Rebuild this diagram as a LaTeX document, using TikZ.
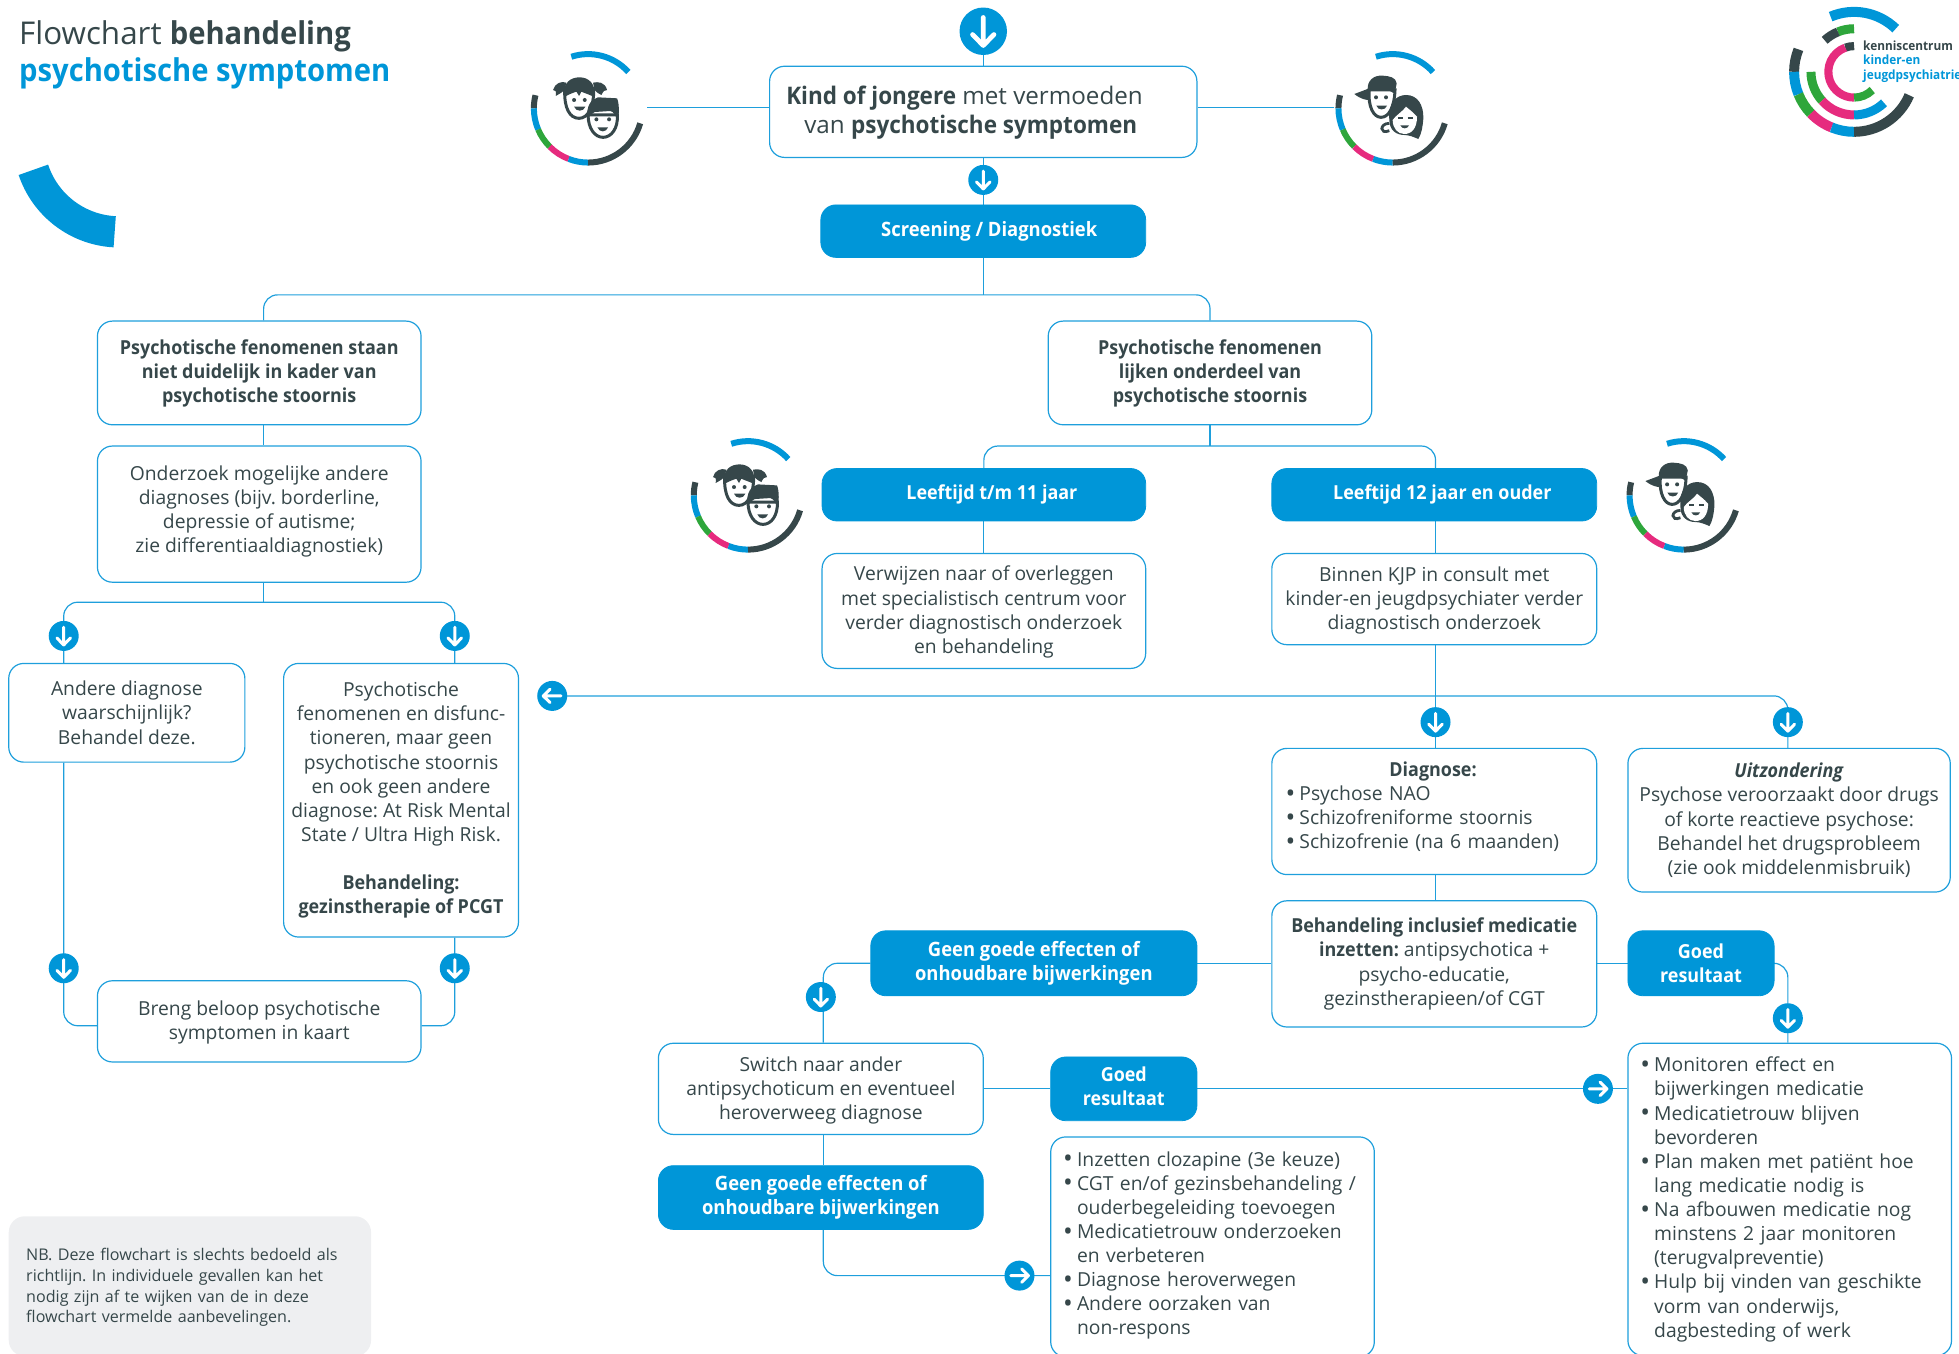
\documentclass[tikz,border=0pt]{standalone}
\usepackage{fontspec}
\setmainfont{Open Sans}[BoldFeatures={FakeStretch=0.93},BoldItalicFeatures={FakeStretch=0.93}]
\frenchspacing
\usetikzlibrary{calc,backgrounds}
\definecolor{bl}{HTML}{0096D8}
\definecolor{ln}{HTML}{1E9FDC}
\definecolor{gr}{HTML}{36474A}
\definecolor{gn}{HTML}{2EA63B}
\definecolor{pk}{HTML}{E62B7E}
\definecolor{nb}{HTML}{EEEFF1}
\def\uu{0.6247pt}
\newcommand\dn[1]{\rule{0pt}{\dimexpr 7.3pt+2\dimexpr #1pt\relax\relax}}
\newcommand\up[1]{\rule[-\dimexpr 2.4pt+2\dimexpr #1pt\relax\relax]{0pt}{0pt}}
\newcommand\bu{\makebox[6.9pt][l]{\fontsize{13}{0}\selectfont\raisebox{-0.9pt}{\textbullet}}}
\newcommand\ind{\hspace*{6.9pt}}
\tikzset{
  x=\uu,y=-\uu,
  bodyfont/.style={font=\fontsize{9.65}{12.06}\selectfont,text=gr},
  wbox/.style={draw=ln,line width=0.6pt,fill=white,rounded corners=7.5pt,inner sep=0pt,align=center,bodyfont},
  lbox/.style={wbox,align=left},
  bbox/.style={draw=bl,fill=bl,rounded corners=7.5pt,inner sep=0pt,align=center,font=\fontsize{9.65}{12.06}\selectfont\bfseries,text=white},
  bboxw/.style={bbox,font=\fontsize{9.9}{12.06}\selectfont\bfseries},
  conn/.style={draw=ln,line width=0.6pt,rounded corners=7pt},
  seg/.style={line width=#1*\uu,line cap=butt},
  dot/.style={circle,fill=bl,inner sep=0pt,draw=none},
  arr/.style={draw=white,line width=#1,line cap=round,line join=round},
  facel/.style={draw=gr,fill=white,line width=1.5pt},
}
\newcommand\bx[7]{\node[#1,minimum width={(#5-#3)*\uu},minimum height={(#6-#4)*\uu}] (#2) at ({(#3+#5)/2},{(#4+#6)/2}) {#7};}
\newcommand\lx[7]{\node[lbox,inner xsep={#6*\uu},text width={(#4-#2-2*#6)*\uu},minimum width={(#4-#2)*\uu},minimum height={(#5-#3)*\uu}] (#1) at ({(#2+#4)/2},{(#3+#5)/2}) {#7};}
\newcommand\ad[5]{\node[dot,minimum size={2*#4*\uu}] (#1) at (#2,#3) {};
  \begin{scope}[shift={(#1.center)},rotate=#5,x={#4*\uu},y={-#4*\uu}]
    \draw[arr={#4*0.125pt}] (0,-.58) -- (0,.58) (-.45,.14) -- (0,.6) -- (.45,.14);
  \end{scope}}
\newcommand\sg[5]{\draw[seg=#5,#4] (#1:#3) arc[start angle=#1,end angle=#2,radius=#3];}
\newcommand\ring[2]{\begin{scope}[shift={(#1,#2)},x=\uu,y=\uu]
  \sg{108}{42}{43.4}{bl}{4.8}
  \sg{166}{180}{43.4}{gr}{4.8}
  \sg{180}{203}{43.4}{bl}{4.8}
  \sg{203}{225}{43.4}{gn}{4.8}
  \sg{225}{249}{43.4}{pk}{4.8}
  \sg{249}{270}{43.4}{bl}{4.8}
  \sg{270}{344}{43.4}{gr}{4.8}
\end{scope}}
\newcommand\kids[2]{\ring{#1}{#2}
\begin{scope}[shift={(#1,#2)},x=.1667pt,y=-.1667pt,shift={(-205,-205)}]
  \fill[gr] (140,128) .. controls (125,122) and (105,130) .. (100,150) .. controls (108,148) and (110,155) .. (108,168) .. controls (122,160) and (130,155) .. (135,150) -- cycle;
  \fill[gr] (220,128) .. controls (235,125) and (255,125) .. (262,150) .. controls (255,148) and (250,155) .. (245,165) .. controls (235,160) and (228,155) .. (224,150) -- cycle;
  \draw[facel] (135,150) .. controls (133,205) and (150,235) .. (178,235) .. controls (205,235) and (222,200) .. (222,150) -- cycle;
  \fill[gr] (133,172) .. controls (128,125) and (155,112) .. (180,112) .. controls (205,112) and (230,130) .. (224,172) .. controls (214,165) and (195,160) .. (185,155) -- (178,168) -- (170,155) .. controls (155,160) and (143,165) .. (133,172) -- cycle;
  \fill[gr] (163,180) circle (6) (195,180) circle (6);
  \fill[gr] (163,200) -- (197,200) .. controls (192,216) and (168,216) .. (163,200) -- cycle;
  \draw[facel] (205,225) .. controls (205,265) and (225,292) .. (250,292) .. controls (275,292) and (295,265) .. (293,225) -- cycle;
  \fill[gr] (203,240) .. controls (198,195) and (215,178) .. (235,172) -- (292,175) .. controls (300,195) and (297,225) .. (295,242) .. controls (288,228) and (282,215) .. (272,213) -- (225,216) .. controls (215,220) and (208,228) .. (203,240) -- cycle;
  \fill[gr] (230,238) circle (6) (268,238) circle (6);
  \fill[gr] (233,262) -- (265,262) .. controls (260,278) and (238,278) .. (233,262) -- cycle;
\end{scope}}
\newcommand\teens[2]{\ring{#1}{#2}
\begin{scope}[shift={(#1,#2)},x=.1667pt,y=-.1667pt,shift={(-205,-205)}]
  \draw[facel] (135,150) .. controls (130,200) and (148,232) .. (170,232) .. controls (192,232) and (210,205) .. (212,150) -- cycle;
  \fill[gr] (130,150) .. controls (128,120) and (150,105) .. (175,107) .. controls (195,108) and (215,112) .. (217,130) .. controls (217,140) and (212,150) .. (208,160) .. controls (195,148) and (165,142) .. (130,150) -- cycle;
  \fill[gr] (135,145) -- (90,162) .. controls (110,178) and (125,180) .. (135,180) -- cycle;
  \fill[gr] (155,172) circle (6) (185,172) circle (6);
  \fill[gr] (156,197) -- (188,197) .. controls (184,212) and (160,212) .. (156,197) -- cycle;
  \draw[gr,line width=1.4pt] (195,250) .. controls (165,250) and (165,285) .. (195,272);
  \fill[gr] (195,240) .. controls (190,190) and (215,165) .. (245,165) .. controls (280,165) and (298,195) .. (297,235) .. controls (295,260) and (292,280) .. (282,297) .. controls (270,292) and (255,285) .. (240,285) .. controls (215,285) and (195,270) .. (195,240) -- cycle;
  \fill[white] (205,240) .. controls (205,265) and (220,282) .. (240,282) .. controls (262,282) and (278,265) .. (278,230) .. controls (265,215) and (250,205) .. (245,200) .. controls (235,215) and (215,225) .. (205,240) -- cycle;
  \draw[gr,line width=1pt] (220,235) -- (235,235) (250,235) -- (265,235);
  \fill[gr] (228,256) -- (254,256) .. controls (250,268) and (232,268) .. (228,256) -- cycle;
\end{scope}}
\begin{document}
\begin{tikzpicture}
\useasboundingbox (0,0) rectangle (1568,1083);
\clip (0,0) rectangle (1568,1083);
\node[anchor=base west,inner sep=0pt,align=left,text=gr,font=\fontsize{15.7}{18.4}\selectfont] (title) at (15,65.4) {Flowchart \textbf{behandeling}\\\textcolor{bl}{\textbf{psychotische symptomen}}};
\begin{scope}[shift={(95.6,113)},x=\uu,y=\uu]
  \sg{198.4}{267}{72.6}{bl}{25}
\end{scope}
\begin{scope}[shift={(1484,57.5)},x=\uu,y=\uu]
  \sg{113}{46}{48}{bl}{8}
  \sg{158}{180}{48}{gr}{8}
  \sg{180}{202}{48}{bl}{8}
  \sg{202}{224}{48}{gn}{8}
  \sg{224}{248}{48}{pk}{8}
  \sg{248}{270}{48}{bl}{8}
  \sg{270}{337}{48}{gr}{8}
  \sg{90}{112}{34.5}{gn}{7.2}
  \sg{112}{133}{34.5}{gr}{7.2}
  \sg{180}{222}{34.5}{gn}{7.2}
  \sg{222}{270}{34.5}{pk}{7.2}
  \sg{270}{314}{34.5}{bl}{7.2}
  \sg{90}{110}{20.6}{gr}{6.5}
  \sg{110}{270}{20.6}{pk}{6.5}
  \sg{270}{315}{20.6}{gn}{6.5}
\end{scope}
\node[anchor=base west,inner sep=0pt,align=left,font=\fontsize{6.35}{7.3}\selectfont\bfseries,text=bl] (logotext) at (1491,63.5) {\textcolor{gr}{kenniscentrum}\\kinder-en\\jeugdpsychiatrie};
\kids{470.7}{86.7}
\teens{1114.7}{86.7}
\kids{598.7}{396.5}
\teens{1347.7}{396.5}
\bx{wbox,font=\fontsize{12.1}{14.7}\selectfont}{top}{616}{53}{958}{126}{\rule{0pt}{10.3pt}\textbf{Kind of jongere} met vermoeden\hspace*{18.7pt}\\van \textbf{psychotische symptomen}\hspace*{12.5pt}}
\bx{bboxw}{scr}{657}{164}{917}{206}{\hspace*{6pt}Screening / Diagnostiek}
\bx{wbox}{A}{78}{257}{337}{340}{\dn{.2}\textbf{Psychotische fenomenen staan}\\\textbf{niet duidelijk in kader van}\\\textbf{psychotische stoornis}}
\bx{wbox}{B}{839}{257}{1098}{340}{\dn{.2}\textbf{Psychotische fenomenen}\\\textbf{lijken onderdeel van}\\\textbf{psychotische stoornis}}
\bx{wbox}{C}{78}{357}{337}{466}{Onderzoek mogelijke andere\\diagnoses (bijv. borderline,\\depressie of autisme;\\zie differentiaaldiagnostiek)\up{1.25}}
\bx{bbox}{age1}{658}{375}{917}{417}{\hspace*{8pt}Leeftijd t/m 11 jaar}
\bx{bbox}{age2}{1018}{375}{1278}{417}{\hspace*{8pt}Leeftijd 12 jaar en ouder}
\bx{wbox}{verw}{658}{443}{917}{535}{\dn{.6}Verwijzen naar of overleggen\\met specialistisch centrum voor\\verder diagnostisch onderzoek\\en behandeling}
\bx{wbox}{binnen}{1018}{443}{1278}{516}{\dn{.6}Binnen KJP in consult met\\kinder-en jeugdpsychiater verder\\diagnostisch onderzoek}
\bx{wbox}{andere}{7}{531}{196}{610}{Andere diagnose\\waarschijnlijk?\\Behandel deze.}
\bx{wbox}{psy}{227}{531}{415}{750}{Psychotische\\fenomenen en disfunc-\\tioneren, maar geen\\psychotische stoornis\\en ook geen andere\\diagnose: At Risk Mental\\State / Ultra High Risk.\\[12.06pt]\textbf{Behandeling:}\\\textbf{gezinstherapie of PCGT}}
\lx{diag}{1018}{599}{1278}{700}{11}{\makebox[\hsize][c]{\hspace*{-1.2pt}\textbf{Diagnose:}}\\\bu Psychose NAO\\\bu Schizofreniforme stoornis\\\bu Schizofrenie (na 6 maanden)\up{1.9}}
\bx{wbox}{uitz}{1303}{599}{1561}{714}{\textbf{\textit{Uitzondering}}\\Psychose veroorzaakt door drugs\\of korte reactieve psychose:\\Behandel het drugsprobleem\\(zie ook middelenmisbruik)}
\bx{wbox}{beh}{1018}{721}{1278}{822}{\textbf{Behandeling inclusief medicatie}\\\textbf{inzetten:} antipsychotica +\\psycho-educatie,\\gezinstherapieen/of CGT}
\bx{bboxw}{geen1}{697}{745}{958}{797}{Geen goede effecten of\\onhoudbare bijwerkingen}
\bx{bbox}{goed1}{1303}{745}{1420}{797}{Goed\\resultaat}
\bx{wbox}{breng}{78}{785}{337}{850}{\dn{.6}Breng beloop psychotische\\symptomen in kaart}
\bx{wbox}{switch}{527}{835}{787}{908}{\dn{.9}Switch naar ander\\antipsychoticum en eventueel\\heroverweeg diagnose}
\bx{bbox}{goed2}{841}{846}{958}{897}{Goed\\resultaat\up{.3}}
\bx{bboxw}{geen2}{527}{933}{787}{984}{Geen goede effecten of\\onhoudbare bijwerkingen}
\lx{inz}{841}{910}{1100}{1086}{10}{\bu Inzetten clozapine (3e keuze)\\\bu CGT en/of gezinsbehandeling /\\\ind ouderbegeleiding toevoegen\\\bu Medicatietrouw onderzoeken\\\ind en verbeteren\\\bu Diagnose heroverwegen\\\bu Andere oorzaken van\\\ind non-respons\up{.7}}
\lx{mon}{1303}{835}{1562}{1085}{10}{\bu Monitoren effect en\\\ind bijwerkingen medicatie\\\bu Medicatietrouw blijven\\\ind bevorderen\\\bu Plan maken met patiënt hoe\\\ind lang medicatie nodig is\\\bu Na afbouwen medicatie nog\\\ind minstens 2 jaar monitoren\\\ind (terugvalpreventie)\\\bu Hulp bij vinden van geschikte\\\ind vorm van onderwijs,\\\ind dagbesteding of werk}
\node[fill=nb,rounded corners=8pt,inner xsep={14*\uu},inner ysep=0pt,minimum height={112*\uu},text width={(290-28)*\uu},minimum width={290*\uu},align=left,text=gr,font=\fontsize{8.05}{10.35}\selectfont] (nb) at (152,1029.5) {\rule{0pt}{7.4pt}NB. Deze flowchart is slechts bedoeld als\\richtlijn. In individuele gevallen kan het\\nodig zijn af te wijken van de in deze\\flowchart vermelde aanbevelingen.};
\ad{c0}{787}{25}{19}{0}
\ad{c1}{787}{144}{12}{0}
\ad{cL}{51}{509}{12}{0}
\ad{cR}{364}{509}{12}{0}
\ad{cLb}{51}{775}{12}{0}
\ad{cRb}{364}{775}{12}{0}
\ad{cBack}{442}{557}{12}{-90}
\ad{cDiag}{1149}{578}{12}{0}
\ad{cUitz}{1431}{578}{12}{0}
\ad{cG}{657}{798}{12}{0}
\ad{cMon}{1431}{815}{12}{0}
\ad{cMonL}{1279}{871.5}{12}{90}
\ad{cInz}{816}{1021}{12}{90}
\coordinate (bus1) at (787,236);
\coordinate (xA) at (211,340);
\coordinate (bus2) at (211,482);
\coordinate (bus3) at (968.5,357);
\coordinate (y821) at (0,821);
\coordinate (lEnd) at (518,86);
\coordinate (rEnd) at (1068,86);
\coordinate (xS) at (659,0);
\begin{scope}[on background layer]
\draw[conn] (lEnd) -- (top.west |- lEnd);
\draw[conn] (rEnd) -- (top.east |- rEnd);
\draw[conn] (c0) -- (top.north);
\draw[conn] (top.south) -- (c1) -- (scr.north -| c1);
\draw[conn] (scr.south -| c1) -- (bus1);
\draw[conn] (A.north -| xA) |- (bus1) -| (B.north);
\draw[conn] (A.south -| xA) -- (C.north -| xA);
\draw[conn] (C.south -| xA) -- (bus2);
\draw[conn] (andere.north -| cL) |- (bus2) -| (psy.north -| cR);
\draw[conn] (andere.south -| cLb) |- (breng.west |- y821);
\draw[conn] (psy.south -| cRb) |- (breng.east |- y821);
\draw[conn] (B.south) -- (bus3);
\draw[conn] (age1.north) |- (bus3) -| (age2.north -| cDiag);
\draw[conn] (age1.south) -- (verw.north);
\draw[conn] (age2.south -| cDiag) -- (binnen.north -| cDiag);
\draw[conn] (binnen.south -| cDiag) -- (diag.north -| cDiag);
\draw[conn] (cBack.center) -| (cUitz.center) -- (uitz.north -| cUitz);
\draw[conn] (diag.south -| cDiag) -- (beh.north -| cDiag);
\draw[conn] (geen1.east) -- (beh.west |- geen1.east);
\draw[conn] (geen1.west) -| (switch.north -| xS);
\draw[conn] (beh.east |- goed1.east) -- (goed1.west);
\draw[conn] (goed1.east) -| (cMon.center) -- (mon.north -| cMon);
\draw[conn] (switch.east) -- (goed2.west);
\draw[conn] (goed2.east) -- (cMonL) -- (mon.west |- cMonL);
\draw[conn] (switch.south -| xS) -- (geen2.north -| xS);
\draw[conn] (geen2.south -| xS) |- (cInz.center) -- (inz.west |- cInz);
\end{scope}
\end{tikzpicture}
\end{document}
